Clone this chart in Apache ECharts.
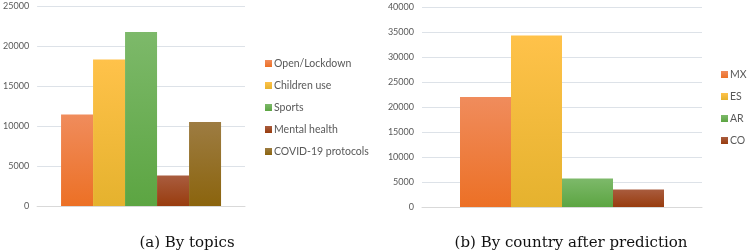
<!DOCTYPE html>
<html>
<head>
<meta charset="utf-8">
<script src="https://cdn.jsdelivr.net/npm/echarts@6/dist/echarts.min.js"></script>
<style>
html, body { margin: 0; padding: 0; background: #fff; }
#chart { width: 751px; height: 250px; }
</style>
</head>
<body>
<div id="chart"></div>
<script>
// data (a) by topics
const topicNames = ['Open/Lockdown', 'Children use', 'Sports', 'Mental health', 'COVID-19 protocols']
const topicValues = [11450, 18300, 21750, 3800, 10500]
// data (b) by country after prediction
const countryNames = ['MX', 'ES', 'AR', 'CO']
const countryValues = [22000, 34300, 5700, 3500]
const captions = ['(a) By topics', '(b) By country after prediction']

// colores: [arriba, abajo]
const topicColors = [['#F08C5C', '#EC7025'], ['#FFC24A', '#E5B22E'], ['#7DB96A', '#5CA542'], ['#A95C3E', '#983C0E'], ['#9D7C42', '#8B640D']]
const countryColors = [['#F08C5C', '#EC7025'], ['#FFC24A', '#E5B22E'], ['#7DB96A', '#5CA542'], ['#A95C3E', '#983C0E']]

const chart = echarts.init(document.getElementById('chart'))

function grad(c) {
	return new echarts.graphic.LinearGradient(0, 0, 0, 1, [
		{ offset: 0, color: c[0] },
		{ offset: 1, color: c[1] },
	])
}

const font = 'Lato, sans-serif'
const axisLabelStyle = { color: '#595959', fontSize: 9, fontFamily: font, margin: 8, formatter: v => String(v) }
const gridLine = { lineStyle: { color: '#DDE2E8' } }

function barSeries(names, values, colors, idx, width) {
	return names.map((n, i) => ({
		type: 'bar',
		name: n,
		xAxisIndex: idx,
		yAxisIndex: idx,
		barWidth: width,
		barGap: 0,
		data: [values[i]],
		itemStyle: { color: grad(colors[i]) },
		emphasis: { disabled: true },
	}))
}

const legendText = { color: '#595959', fontSize: 10.5, fontFamily: font, padding: [0, 0, 0, -3] }
const captionText = { fontFamily: 'DejaVu Serif', fontWeight: 'normal', fontSize: 15, color: '#111' }

const option = {
	animation: false,
	title: [
		{ text: captions[0], left: 182, top: 231, textAlign: 'center', textStyle: captionText },
		{ text: captions[1], left: 566, top: 231, textAlign: 'center', textStyle: captionText },
	],
	legend: [
		{
			data: topicNames, orient: 'vertical', left: 260, top: 53,
			icon: 'rect', itemWidth: 7, itemHeight: 7, itemGap: 11,
			textStyle: legendText,
		},
		{
			data: countryNames, orient: 'vertical', left: 716, top: 64,
			icon: 'rect', itemWidth: 7, itemHeight: 7, itemGap: 11,
			textStyle: legendText,
		},
	],
	grid: [
		{ left: 37, top: 6, width: 208, height: 200 },
		{ left: 422, top: 7, width: 280, height: 200 },
	],
	xAxis: [0, 1].map(i => ({
		type: 'category', gridIndex: i, data: [''],
		axisLine: { lineStyle: { color: '#D9D9D9' } },
		axisTick: { show: false }, axisLabel: { show: false },
	})),
	yAxis: [
		{ type: 'value', gridIndex: 0, min: 0, max: 25000, interval: 5000,
			axisLabel: axisLabelStyle, splitLine: gridLine },
		{ type: 'value', gridIndex: 1, min: 0, max: 40000, interval: 5000,
			axisLabel: axisLabelStyle, splitLine: gridLine },
	],
	series: [
		...barSeries(topicNames, topicValues, topicColors, 0, 32),
		...barSeries(countryNames, countryValues, countryColors, 1, 51),
	],
}
chart.setOption(option)
</script>
</body>
</html>
